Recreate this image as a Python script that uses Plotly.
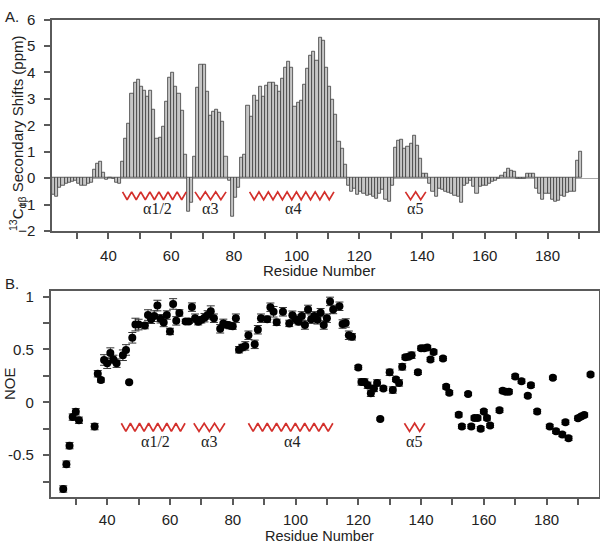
import plotly.graph_objects as go

# ---------------- data ----------------
shift_residues = list(range(22, 191))
shift_values = [
    -0.62, -0.72, -0.36, -0.27, -0.22, -0.17, -0.12, -0.10, -0.20, -0.27,   # 22-31
    -0.27, -0.22, -0.16, 0.32, 0.53, 0.61, 0.20, -0.05, 0.01, -0.02,        # 32-41
    -0.16, -0.21, 0.62, 1.50, 2.07, 3.20, 3.60, 3.72, 3.45, 3.30,           # 42-51
    3.10, 3.33, 2.60, 1.50, 1.55, 1.96, 2.90, 3.80, 4.00, 3.45,             # 52-61
    3.20, 2.56, 0.89, -1.27, -0.92, 0.80, 3.44, 4.30, 4.30, 3.28,           # 62-71
    2.36, 2.51, 2.58, 2.48, 2.15, 0.80, -0.10, -1.45, -0.75, -0.35,         # 72-81
    0.77, 0.87, 2.74, 2.33, 3.11, 2.93, 3.45, 3.09, 3.51, 3.60,             # 82-91
    3.62, 3.50, 3.29, 3.75, 4.18, 4.40, 4.18, 2.70, 2.84, 2.93,             # 92-101
    3.54, 4.15, 4.63, 4.79, 4.45, 5.30, 5.22, 4.20, 3.45, 2.96,             # 102-111
    2.39, 1.38, 1.10, 0.50, -0.27, -0.50, -0.39, -0.63, -0.51, -0.57,       # 112-121
    -0.67, -0.63, -0.70, -0.76, -0.60, -0.45, -0.80, -0.88, -0.30, 1.16,    # 122-131
    1.40, 1.45, 1.11, 1.20, 1.32, 1.59, 1.22, 0.74, 0.18, 0.18,             # 132-141
    -0.20, -0.50, -0.70, -0.40, -0.45, -0.50, -0.55, -0.60, -0.65, -0.72,   # 142-151
    -0.94, -0.30, -0.20, -0.10, -0.33, -0.57, -0.33, -0.30, -0.27, -0.20,   # 152-161
    -0.15, -0.08, -0.02, 0.10, 0.22, 0.37, 0.30, 0.24, -0.01, -0.02,        # 162-171
    -0.03, 0.18, 0.16, 0.18, -0.39, -0.57, -0.82, -0.57, -0.60, -0.82,      # 172-181
    -0.91, -0.85, -0.67, -0.70, -0.55, -0.52, -0.50, 0.67, 1.01,            # 182-190
]

noe_residues = [
    26, 27, 28, 29, 30, 31, 36, 37, 38, 39, 40, 41, 42, 43, 45, 46, 47, 48, 49, 50,
    52, 53, 54, 55, 56, 57, 58, 59, 60, 61, 62, 63, 65, 66, 67, 68, 69, 70, 71, 72,
    73, 74, 76, 77, 78, 79, 80, 81, 82, 83, 84, 85, 87, 88, 89, 91, 92, 93, 94, 96,
    98, 99, 100, 101, 102, 103, 104, 105, 106, 107, 108, 109, 110, 111, 112, 114, 115, 116, 117, 118,
    120, 121, 122, 123, 124, 125, 126, 127, 128, 130, 131, 132, 133, 134, 135, 136, 137, 139, 140, 141,
    142, 143, 144, 147, 148, 149, 152, 153, 155, 156, 157, 158, 159, 160, 161, 162, 165, 166, 167, 168,
    170, 172, 174, 175, 177, 181, 182, 183, 185, 186, 187, 190, 191, 192, 194,
]
noe_values = [
    -0.82, -0.585, -0.41, -0.14, -0.09, -0.17, -0.23, 0.27, 0.21, 0.40, 0.37, 0.465, 0.405, 0.37, 0.445, 0.495, 0.19, 0.61, 0.735, 0.735,
    0.725, 0.825, 0.785, 0.815, 0.915, 0.79, 0.755, 0.825, 0.67, 0.93, 0.77, 0.845, 0.765, 0.765, 0.90, 0.795, 0.762, 0.78, 0.80, 0.826,
    0.862, 0.795, 0.695, 0.746, 0.734, 0.725, 0.72, 0.795, 0.497, 0.518, 0.533, 0.634, 0.548, 0.686, 0.795, 0.786, 0.899, 0.856, 0.756, 0.856,
    0.746, 0.823, 0.786, 0.762, 0.817, 0.731, 0.878, 0.786, 0.817, 0.78, 0.847, 0.731, 0.795, 0.954, 0.878, 0.908, 0.74, 0.75, 0.634, 0.619,
    0.329, 0.192, 0.192, 0.161, 0.085, 0.131, 0.183, -0.158, 0.131, 0.283, 0.116, 0.216, 0.183, 0.335, 0.427, 0.43, 0.445, 0.283, 0.512, 0.512,
    0.518, 0.405, 0.475, 0.414, 0.146, 0.091, -0.119, -0.229, 0.079, -0.229, -0.149, -0.149, -0.25, -0.088, -0.149, -0.219, -0.076, 0.11, 0.10, 0.10,
    0.244, 0.20, 0.061, 0.161, -0.088, -0.229, 0.232, -0.274, -0.305, -0.189, -0.341, -0.15, -0.135, -0.12, 0.262,
]
noe_errors = [
    0.03, 0.03, 0.03, 0.03, 0.03, 0.03, 0.03, 0.03, 0.02, 0.05, 0.05, 0.05, 0.04, 0.04, 0.05, 0.05, 0.01, 0.05, 0.06, 0.05,
    0.03, 0.05, 0.04, 0.05, 0.05, 0.04, 0.04, 0.04, 0.03, 0.05, 0.04, 0.03, 0.02, 0.02, 0.04, 0.04, 0.03, 0.03, 0.04, 0.04,
    0.05, 0.04, 0.04, 0.04, 0.03, 0.03, 0.03, 0.04, 0.03, 0.03, 0.04, 0.04, 0.04, 0.04, 0.04, 0.03, 0.04, 0.05, 0.03, 0.04,
    0.03, 0.04, 0.04, 0.03, 0.04, 0.04, 0.04, 0.04, 0.04, 0.04, 0.04, 0.04, 0.04, 0.04, 0.04, 0.04, 0.04, 0.04, 0.04, 0.03,
    0.02, 0.03, 0.03, 0.03, 0.03, 0.03, 0.03, 0.01, 0.02, 0.03, 0.03, 0.02, 0.03, 0.03, 0.02, 0.02, 0.03, 0.02, 0.02, 0.02,
    0.02, 0.02, 0.02, 0.02, 0.02, 0.02, 0.02, 0.02, 0.015, 0.02, 0.02, 0.02, 0.02, 0.02, 0.02, 0.02, 0.02, 0.02, 0.02, 0.02,
    0.02, 0.02, 0.015, 0.02, 0.02, 0.02, 0.015, 0.02, 0.02, 0.02, 0.02, 0.02, 0.02, 0.02, 0.015,
]

helix_names = ["α1/2", "α3", "α4", "α5"]
helix_start = [44.5, 67.6, 85.0, 134.7]
helix_end = [64.8, 77.5, 111.9, 141.2]
helix_turns = [7, 3, 9, 2]
helix_label_x = [55.5, 72.5, 99.0, 137.8]

x_tick_labels = [40, 60, 80, 100, 120, 140, 160, 180]
x_minor_ticks = [30, 50, 70, 90, 110, 130, 150, 170, 190]
shift_y_ticks = [-2, -1, 0, 1, 2, 3, 4, 5, 6]
noe_y_ticks = [-0.5, 0, 0.5, 1]
noe_y_text = ["-0.5", "0", "0.5", "1"]
noe_y_minor = [-0.75, -0.25, 0.25, 0.75]

# ---------------- styling ----------------
FONT = "Liberation Sans, Arial, sans-serif"
SERIF = "Liberation Serif, Times New Roman, serif"
AX = "#5a5a5a"
RED = "#d3302c"
W, H = 600, 551


def zigzag(start, end, n, ytop, ybot):
    xs, ys = [], []
    w = (end - start) / n
    for i in range(n):
        xs += [start + i * w, start + (i + 0.5) * w]
        ys += [ytop, ybot]
    xs.append(end)
    ys.append(ytop)
    return xs, ys


fig = go.Figure()

fig.add_trace(go.Bar(
    x=shift_residues, y=shift_values, width=1, offset=0,
    marker=dict(color="#c6c6c6", line=dict(color="#3c3c3c", width=0.8)),
    xaxis="x", yaxis="y", hoverinfo="x+y",
))

fig.add_trace(go.Scatter(
    x=noe_residues, y=noe_values, mode="markers",
    marker=dict(color="black", size=8),
    error_y=dict(type="data", array=noe_errors, visible=True,
                 color="#333333", thickness=1, width=4),
    xaxis="x2", yaxis="y2",
))

for name, s, e, n, lx in zip(helix_names, helix_start, helix_end, helix_turns, helix_label_x):
    xs, ys = zigzag(s, e, n, -0.52, -0.82)
    fig.add_trace(go.Scatter(x=xs, y=ys, mode="lines", line=dict(color=RED, width=1.7),
                             xaxis="x", yaxis="y", hoverinfo="skip"))
    xs2, ys2 = zigzag(s, e, n, -0.198, -0.275)
    fig.add_trace(go.Scatter(x=xs2, y=ys2, mode="lines", line=dict(color=RED, width=1.7),
                             xaxis="x2", yaxis="y2", hoverinfo="skip"))
    fig.add_annotation(x=lx, y=-1.14, xref="x", yref="y", text=name, showarrow=False,
                       font=dict(family=SERIF, size=16, color="#222"))
    fig.add_annotation(x=lx, y=-0.37, xref="x2", yref="y2", text=name, showarrow=False,
                       font=dict(family=SERIF, size=16, color="#222"))

axis_common = dict(
    showline=True, linecolor=AX, linewidth=1.5, mirror=True,
    ticks="outside", ticklen=6, tickcolor=AX, tickwidth=1.5,
    showgrid=False, zeroline=False,
    tickfont=dict(family=FONT, size=15, color="#222"),
)
minor_x = dict(tickvals=x_minor_ticks, ticks="outside", ticklen=6, tickcolor=AX, tickwidth=1.5)

fig.update_layout(
    width=W, height=H,
    margin=dict(l=0, r=0, t=0, b=0),
    paper_bgcolor="white", plot_bgcolor="white",
    showlegend=False, bargap=0,
    xaxis=dict(domain=[52 / W, 597.7 / W], range=[22, 196], anchor="y",
               tickvals=x_tick_labels, minor=minor_x, ticklabelstandoff=4, **axis_common),
    yaxis=dict(domain=[1 - 229 / H, 1 - 11 / H], range=[-2, 6], anchor="x",
               tickvals=shift_y_ticks, ticklabelstandoff=6,
               **{k: v for k, v in axis_common.items() if k != "zeroline"},
               zeroline=True, zerolinecolor="#a8a8a8", zerolinewidth=1),
    xaxis2=dict(domain=[50.7 / W, 598.7 / W], range=[22, 196.6], anchor="y2",
                tickvals=x_tick_labels, minor=minor_x, ticklabelstandoff=2, **axis_common),
    yaxis2=dict(domain=[1 - 504 / H, 1 - 290.7 / H], range=[-0.9, 1.055], anchor="x2",
                tickvals=noe_y_ticks, ticktext=noe_y_text, ticklabelstandoff=6,
                minor=dict(tickvals=noe_y_minor, ticks="outside", ticklen=6, tickcolor=AX, tickwidth=1.5),
                **axis_common),
)

paper_text = [
    ("A.", 3 / W, 1 - 8 / H, 0, "left", 15),
    ("B.", 3 / W, 1 - 283 / H, 0, "left", 15),
    ("<sup>13</sup>C<sub>αβ</sub> Secondary Shifts (ppm)", 17 / W, 1 - 128 / H, -90, "center", 15),
    ("NOE", 9 / W, 1 - 387 / H, -90, "center", 15),
    ("Residue Number", 319 / W, 1 - 270 / H, 0, "center", 15),
    ("Residue Number", 319 / W, 1 - 544 / H, 0, "center", 14.5),
]
for txt, px, py, ang, xa, fs in paper_text:
    fig.add_annotation(x=px, y=py, xref="paper", yref="paper", text=txt, showarrow=False,
                       textangle=ang, xanchor=xa, yanchor="middle",
                       font=dict(family=FONT, size=fs, color="#222"))

fig.write_html("out.html", config={"displayModeBar": False},
               post_script="document.body.style.margin='0px';document.body.style.overflow='hidden';")
